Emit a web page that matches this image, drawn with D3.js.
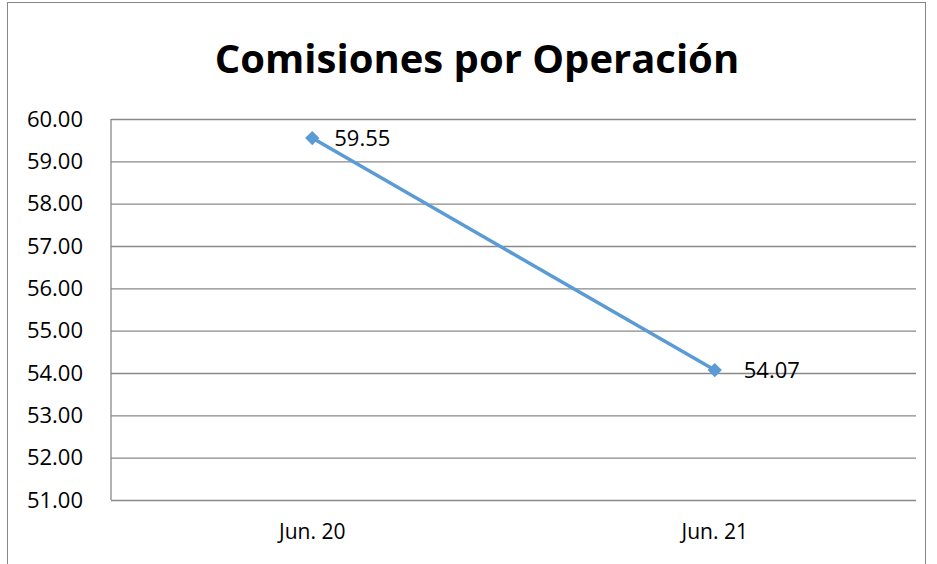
<!DOCTYPE html>
<html><head><meta charset="utf-8">
<script src="https://cdn.jsdelivr.net/npm/d3@7"></script>
<style>body{margin:0;background:#fff}svg{display:block}text{font-family:"Open Sans",sans-serif}</style>
</head><body>
<script>
const title = "Comisiones por Operación";
const categories = ["Jun. 20", "Jun. 21"];
const values = [59.55, 54.07];
const yTicks = [51, 52, 53, 54, 55, 56, 57, 58, 59, 60];

const W = 937, H = 564;
const m = {left: 111, right: 916, top: 119, bottom: 500};
const svg = d3.select("body").append("svg").attr("width", W).attr("height", H);

svg.append("rect").attr("x", 7.5).attr("y", 2.5).attr("width", 918).attr("height", 600)
  .attr("fill", "#fff").attr("stroke", "#868686").attr("stroke-width", 1);

svg.append("text").attr("x", 477).attr("y", 73).attr("text-anchor", "middle")
  .attr("font-size", 40).attr("font-weight", "bold").attr("fill", "#000").text(title);

const x = d3.scaleBand().domain(categories).range([m.left, m.right]);
const y = d3.scaleLinear().domain([51, 60]).range([m.bottom, m.top]);

const yAxis = svg.append("g").attr("transform", `translate(${m.left},0)`)
  .call(d3.axisLeft(y).tickValues(yTicks).tickFormat(d3.format(".2f")).tickSize(-(m.right - m.left)).tickPadding(28));
yAxis.select(".domain").remove();
yAxis.selectAll(".tick line").attr("stroke", "#898989").attr("stroke-width", 1.3);
yAxis.selectAll(".tick text").attr("font-size", 22).attr("fill", "#000").style("font-family", "Open Sans");

svg.append("line").attr("x1", m.left).attr("x2", m.left).attr("y1", m.top).attr("y2", m.bottom)
  .attr("stroke", "#898989").attr("stroke-width", 1.3);

const xAxis = svg.append("g").attr("transform", `translate(0,${m.bottom})`)
  .call(d3.axisBottom(x).tickSize(0).tickPadding(24));
xAxis.select(".domain").remove();
xAxis.selectAll(".tick text").attr("font-size", 21).attr("fill", "#000").style("font-family", "Open Sans");

const cx = d => x(d) + x.bandwidth() / 2;
const line = d3.line().x((d, i) => cx(categories[i])).y(d => y(d));
svg.append("path").datum(values).attr("d", line).attr("fill", "none")
  .attr("stroke", "#5B9BD5").attr("stroke-width", 3.5);

svg.selectAll(".mk").data(values).enter().append("path")
  .attr("d", d3.symbol(d3.symbolDiamond2, 130)())
  .attr("transform", (d, i) => `translate(${cx(categories[i])},${y(d)})`)
  .attr("fill", "#5B9BD5");

svg.selectAll(".lbl").data(values).enter().append("text")
  .attr("x", (d, i) => cx(categories[i]) + 22 + (i === 1 ? 7 : 0))
  .attr("y", d => y(d)).attr("dy", "0.35em")
  .attr("font-size", 22).attr("fill", "#000").text(d => d.toFixed(2));
</script>
</body></html>
